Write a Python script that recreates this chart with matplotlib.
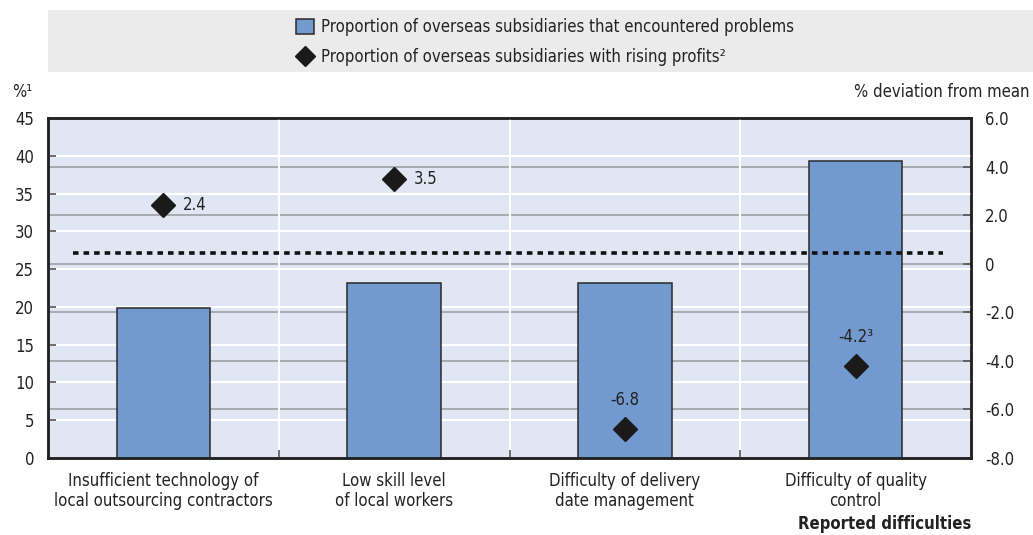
import matplotlib
matplotlib.use("Agg")
import matplotlib.pyplot as plt
from matplotlib.patches import Rectangle
from matplotlib.lines import Line2D
from matplotlib import font_manager

# ---- data ----
categories = [
    "Insufficient technology of\nlocal outsourcing contractors",
    "Low skill level\nof local workers",
    "Difficulty of delivery\ndate management",
    "Difficulty of quality\ncontrol",
]
problems_share = [19.8, 23.1, 23.1, 39.3]          # left axis, %
profit_deviation = [2.4, 3.5, -6.8, -4.2]          # right axis, % deviation from mean
profit_labels = ["2.4", "3.5", "-6.8", "-4.2\u00b3"]
mean_problems = 27.1
left_ticks = [0, 5, 10, 15, 20, 25, 30, 35, 40, 45]
right_ticks = [-8, -6, -4, -2, 0, 2, 4, 6]
right_tick_labels = ["-8.0", "-6.0", "-4.0", "-2.0", "0", "2.0", "4.0", "6.0"]

# ---- style ----
names = {f.name for f in font_manager.fontManager.ttflist}
fam = [f for f in ["Liberation Sans Narrow", "DejaVu Sans"] if f in names]
plt.rcParams["font.family"] = fam
plt.rcParams["font.stretch"] = "condensed"
plt.rcParams["lines.scale_dashes"] = False

FS = 12
BG = "#E0E6F4"
BAR = "#729ACF"
TXT = "#222222"
GRAY = "#A3A5AA"

fig = plt.figure(figsize=(10.33, 5.35), dpi=100)
ax = fig.add_axes([48 / 1033, 1 - 458 / 535, (971 - 48) / 1033, (458 - 118) / 535])
ax2 = ax.twinx()
ax.set_zorder(2)
ax2.set_zorder(1)
ax.patch.set_visible(False)
ax2.patch.set_visible(True)
ax2.patch.set_facecolor(BG)

x = list(range(len(categories)))
ax.set_xlim(-0.5, len(categories) - 0.5)
ax.set_ylim(0, 45)
ax2.set_ylim(-8, 6)

# white grid for left axis and category separators
for t in left_ticks[1:-1]:
    ax.axhline(t, color="white", lw=1.5, zorder=0.5)
for b in [0.5, 1.5, 2.5]:
    ax.axvline(b, color="white", lw=1.5, zorder=0.5)
# gray grid for right axis
for t in right_ticks[1:-1]:
    ax2.axhline(t, color=GRAY, lw=1.3, zorder=0.6)

ax.bar(x, problems_share, width=0.405, color=BAR, edgecolor="#2a2a2a", lw=1.1, zorder=2)

ax.plot([-0.39, 3.38], [mean_problems, mean_problems], color="#111111", lw=2.6,
        dashes=(4.0, 3.6), zorder=3, solid_capstyle="butt", dash_capstyle="butt")

ax.plot(x, profit_deviation, linestyle="none", marker="D", markersize=12,
        color="#1a1a1a", transform=ax2.transData, zorder=4, clip_on=False)
for i, (v, lab) in enumerate(zip(profit_deviation, profit_labels)):
    if v > 0:
        ax.annotate(lab, (i, v), xycoords=ax2.transData, xytext=(14, 0),
                    textcoords="offset points", ha="left", va="center",
                    fontsize=FS, color=TXT, zorder=5)
    else:
        ax.annotate(lab, (i, v), xycoords=ax2.transData, xytext=(0, 21),
                    textcoords="offset points", ha="center", va="center",
                    fontsize=FS, color=TXT, zorder=5)

# axes and ticks
ax.set_xticks([0.5, 1.5, 2.5])
ax.set_xticklabels([])
ax.tick_params(axis="x", direction="in", length=6, width=1.2, color="#555555")
for i, c in enumerate(categories):
    ax.text(i, -0.04, c, transform=ax.get_xaxis_transform(), ha="center", va="top",
            fontsize=FS, color=TXT, linespacing=1.2)
ax.set_yticks(left_ticks)
ax.tick_params(axis="y", direction="in", length=6, width=1.2, color="#555555",
               labelsize=FS, labelcolor=TXT, pad=10)
ax2.set_yticks(right_ticks)
ax2.set_yticklabels(right_tick_labels)
ax2.tick_params(axis="y", direction="in", length=6, width=1.2, color="#555555",
                labelsize=FS, labelcolor=TXT, pad=10)
for a in (ax, ax2):
    for s in a.spines.values():
        s.set_linewidth(1.8)
        s.set_color("#222222")

fig.text(12 / 1033, 1 - 92 / 535, "%\u00b9", ha="left", va="center", fontsize=FS, color=TXT)
fig.text(1030 / 1033, 1 - 92 / 535, "% deviation from mean", ha="right", va="center",
         fontsize=FS, color=TXT)
fig.text(971 / 1033, 1 - 524 / 535, "Reported difficulties", ha="right", va="center",
         fontsize=FS, color=TXT, fontweight="bold")

# legend panel
fig.patches.append(Rectangle((48 / 1033, 1 - 72 / 535), 1 - 48 / 1033, 62 / 535,
                             transform=fig.transFigure, facecolor="#EBEBEB",
                             edgecolor="none", zorder=0))
handles = [
    Rectangle((0, 0), 1, 1, facecolor=BAR, edgecolor="#2a2a2a", lw=1.1),
    Line2D([], [], linestyle="none", marker="D", markersize=10, color="#1a1a1a"),
]
labels = ["Proportion of overseas subsidiaries that encountered problems",
          "Proportion of overseas subsidiaries with rising profits\u00b2"]
fig.legend(handles, labels, loc="center left", bbox_to_anchor=(288 / 1033, 1 - 42 / 535),
           frameon=False, fontsize=FS, handlelength=1.05, handleheight=1.0,
           handletextpad=0.45, labelspacing=0.75, borderpad=0, labelcolor=TXT)

fig.savefig("out.png", dpi=100)
